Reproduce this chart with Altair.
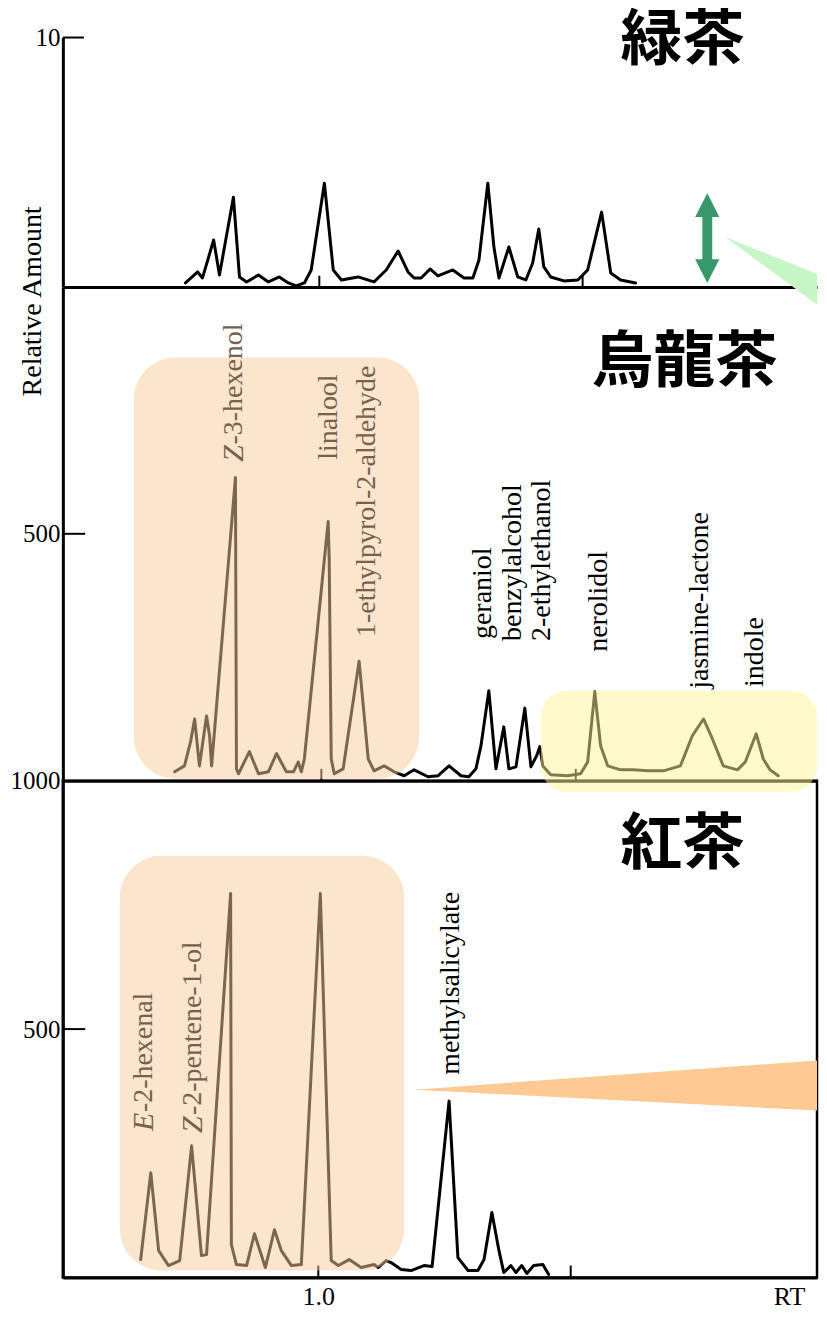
import altair as alt
import pandas as pd

SERIF = "Liberation Serif"
CJK = "Noto Sans CJK JP"
BROWN = "#76614c"
PEACH = "#f8cc9c"
YELLOW = "#fff49a"
GREEN = "#37996a"
MINT = "#c6f5c6"
ORANGE = "#ffc994"

# ---------------- 緑茶 chromatogram (RT, relative amount 0-10) ----------------
green_rt = [0.476, 0.524, 0.543, 0.587, 0.610, 0.665, 0.689, 0.717, 0.764, 0.803,
            0.846, 0.882, 0.913, 0.945, 0.972, 1.024, 1.059, 1.091, 1.157, 1.220,
            1.268, 1.315, 1.354, 1.378, 1.406, 1.441, 1.472, 1.531, 1.575, 1.610,
            1.634, 1.669, 1.693, 1.713, 1.752, 1.787, 1.819, 1.846, 1.870, 1.890,
            1.917, 1.969, 2.024, 2.063, 2.118, 2.154, 2.193, 2.252]
green_amt = [0.16, 0.60, 0.36, 1.88, 0.48, 3.60, 0.40, 0.20, 0.48, 0.20,
             0.40, 0.16, 0.04, 0.16, 0.68, 4.16, 0.68, 0.28, 0.40, 0.20,
             0.68, 1.44, 0.60, 0.36, 0.36, 0.72, 0.44, 0.68, 0.36, 0.36,
             1.08, 4.16, 1.60, 0.36, 1.60, 0.40, 0.28, 0.96, 2.32, 0.80,
             0.40, 0.24, 0.28, 0.68, 3.00, 0.56, 0.28, 0.16]

# ---------------- 烏龍茶 chromatogram (RT, relative amount 0-1000) ----------------
oolong_rt = [0.433, 0.472, 0.496, 0.512, 0.531, 0.559, 0.571, 0.579, 0.673, 0.677,
             0.685, 0.728, 0.764, 0.803, 0.835, 0.874, 0.902, 0.921, 0.933, 0.945,
             1.039, 1.043, 1.051, 1.063, 1.098, 1.161, 1.197, 1.220, 1.260, 1.299,
             1.339, 1.378, 1.433, 1.472, 1.516, 1.563, 1.594, 1.622, 1.642, 1.673,
             1.701, 1.732, 1.752, 1.780, 1.815, 1.839, 1.862, 1.874, 1.886, 1.917,
             1.984, 2.035, 2.063, 2.091, 2.114, 2.142, 2.193, 2.244, 2.299, 2.362,
             2.429, 2.476, 2.520, 2.555, 2.598, 2.654, 2.685, 2.728, 2.756, 2.783,
             2.815]
oolong_amt = [18, 30, 79, 125, 30, 131, 91, 30, 614, 24,
              14, 59, 14, 18, 55, 18, 18, 38, 18, 44,
              525, 448, 44, 14, 24, 242, 44, 20, 30, 18,
              10, 22, 8, 10, 30, 10, 8, 24, 71, 182,
              24, 109, 24, 28, 147, 28, 51, 69, 30, 12,
              10, 14, 38, 180, 71, 30, 22, 22, 20, 20,
              30, 91, 125, 85, 30, 22, 38, 95, 44, 22,
              10]

# ---------------- 紅茶 chromatogram (RT, relative amount 0-1000) ----------------
black_rt = [0.299, 0.339, 0.370, 0.409, 0.453, 0.500, 0.539, 0.559, 0.654, 0.657,
            0.677, 0.717, 0.748, 0.791, 0.827, 0.854, 0.894, 0.933, 1.008, 1.051,
            1.079, 1.122, 1.169, 1.220, 1.236, 1.268, 1.287, 1.327, 1.366, 1.417,
            1.449, 1.516, 1.551, 1.591, 1.630, 1.654, 1.685, 1.713, 1.732, 1.760,
            1.780, 1.803, 1.823, 1.850, 1.886, 1.909]
black_amt = [36, 211, 54, 24, 34, 265, 44, 46, 773, 66,
             26, 24, 88, 20, 96, 54, 24, 26, 773, 34,
             24, 36, 20, 26, 20, 34, 30, 16, 14, 24,
             22, 355, 40, 14, 14, 36, 131, 54, 10, 24,
             10, 24, 8, 24, 26, 6]

# ---------------- compound labels ----------------
oolong_lab = ["Z", "-3-hexenol", "linalool", "1-ethylpyrol-2-aldehyde",
              "geraniol", "benzylalcohol", "2-ethylethanol", "nerolidol",
              "jasmine-lactone", "indole"]
oolong_lab_rt = [0.669, 0.669, 1.043, 1.193, 1.650, 1.768, 1.882, 2.106, 2.508, 2.724]
oolong_lab_amt = [646, 681, 650, 291, 287, 283, 283, 261, 186, 190]
oolong_lab_kind = ["italic", "boxed", "boxed", "boxed",
                   "plain", "plain", "plain", "plain", "plain", "plain"]

black_lab = ["E", "-2-hexenal", "Z", "-2-pentene-1-ol", "methylsalicylate"]
black_lab_rt = [0.311, 0.311, 0.504, 0.504, 1.524]
black_lab_amt = [295, 333, 291, 327, 408]
black_lab_kind = ["italic", "boxed", "italic", "boxed", "plain"]

# ---------------- panel names ----------------
tea_names = ["緑茶", "烏龍茶", "紅茶"]
tea_rt = [2.437, 2.445, 2.437]
tea_amt = [11.06, 846, 871]
tea_baseline = ["top", "middle", "middle"]

# ---------------- RT axis extent ----------------
XMIN, XMAX = -0.008, 2.968

# ---------------- highlight boxes (rt, rt2, amt, amt2) ----------------
oolong_box = dict(rt=[0.272], rt2=[1.398], amt=[857], amt2=[4])
black_box = dict(rt=[0.217], rt2=[1.339], amt=[849], amt2=[14])
yellow_box = dict(rt=[1.878], rt2=[XMAX], amt=[1181], amt2=[978])

# ---------------- callout wedges ----------------
mint_wedge = dict(rt=[2.606, XMAX], amt=[2.0, 0.52], amt2=[2.0, -0.70])
orange_wedge = dict(rt=[1.378, XMAX], amt=[378, 437], amt2=[378, 336])

# double arrow in the 緑茶 panel
arrow_rt = [2.535]
arrow_amt = [1.96]

# inward tick marks
top_xticks = [1.004, 2.043]
mid_xticks = [1.012, 2.016]
bot_xticks = [1.0, 1.996]

W = 756
XS = alt.Scale(domain=[XMIN, XMAX], nice=False, zero=False)


def xaxis_plain():
    return alt.Axis(domain=True, domainColor="black", domainWidth=3, ticks=False,
                    labels=False, title=None, grid=False)


def xaxis_bottom():
    return alt.Axis(values=[1.0], format=".1f", domain=True, domainColor="black",
                    domainWidth=3, ticks=False, tickSize=0, labelFont=SERIF,
                    labelFontSize=26, labelColor="black", labelPadding=6,
                    labelBaseline="top",
                    grid=False, title="RT", titleFont=SERIF, titleFontSize=26,
                    titleFontWeight="normal", titleColor="black", titleX=728,
                    titleY=6, titleAlign="center", titleBaseline="top")


def yaxis(values, fmt="d", title=None, **kw):
    params = dict(values=values, format=fmt, domain=True, domainColor="black",
                  domainWidth=3, ticks=False, tickSize=0, labelFont=SERIF,
                  labelFontSize=25, labelColor="black", labelPadding=3,
                  grid=False)
    if title is None:
        params["title"] = None
    else:
        params.update(dict(title=title, titleFont=SERIF, titleFontSize=28,
                           titleFontWeight="normal", titleColor="black",
                           titleAlign="center", titleBaseline="middle"))
        params.update(kw)
    return alt.Axis(**params)


def build_panel(height, ydomain, xaxis, yax, curve_rt, curve_amt, xticks,
                ytick_val, ytick_len, xtick_len, extra_front=None, view=None):
    X = alt.X("rt:Q", scale=XS, axis=xaxis)
    Y = alt.Y("amt:Q", scale=alt.Scale(domain=ydomain, nice=False, zero=False), axis=yax)
    layers = []
    curve = alt.Chart(pd.DataFrame({"rt": curve_rt, "amt": curve_amt})).mark_line(
        color="black", strokeWidth=3, strokeJoin="round", strokeCap="round"
    ).encode(x=X, y=Y)
    layers.append(curve)
    xt = alt.Chart(pd.DataFrame({"rt": xticks, "amt": [0] * len(xticks),
                                 "amt2": [xtick_len] * len(xticks)})).mark_rule(
        color="black", strokeWidth=2).encode(x=X, y=Y, y2=alt.Y2("amt2"))
    layers.append(xt)
    yt = alt.Chart(pd.DataFrame({"rt": [XMIN], "rt2": [ytick_len], "amt": [ytick_val]})).mark_rule(
        color="black", strokeWidth=2).encode(x=X, x2=alt.X2("rt2"), y=Y)
    layers.append(yt)
    for spec in (extra_front or []):
        layers.append(spec(X, Y))
    layer = alt.layer(*layers).properties(width=W, height=height)
    if view is not None:
        layer = layer.properties(view=view)
    else:
        layer = layer.properties(view=alt.ViewBackground(stroke="transparent", strokeWidth=0))
    return layer


def text_layer(labels, rts, amts, kinds, kind, X, Y):
    sel = [i for i, k in enumerate(kinds) if k == kind]
    df = pd.DataFrame({"label": [labels[i] for i in sel],
                       "rt": [rts[i] for i in sel],
                       "amt": [amts[i] for i in sel]})
    props = dict(angle=270, align="left", baseline="middle", font=SERIF,
                 fontSize=28)
    if kind == "italic":
        props.update(fontStyle="italic", color=BROWN, fontSize=30)
    elif kind == "boxed":
        props.update(color=BROWN)
    else:
        props.update(color="black")
    return alt.Chart(df).mark_text(**props).encode(x=X, y=Y, text="label:N")


def title_layer(i, X, Y):
    df = pd.DataFrame({"name": [tea_names[i]], "rt": [tea_rt[i]], "amt": [tea_amt[i]]})
    return alt.Chart(df).mark_text(font=CJK, fontSize=62, fontWeight="bold",
                                   align="center", baseline=tea_baseline[i],
                                   color="black").encode(x=X, y=Y, text="name:N")


def box_layer(box, color, opacity, radius, X, Y):
    return alt.Chart(pd.DataFrame(box)).mark_rect(
        color=color, opacity=opacity, cornerRadius=radius
    ).encode(x=X, x2=alt.X2("rt2"), y=Y, y2=alt.Y2("amt2"))


def wedge_layer(w, color, X, Y):
    return alt.Chart(pd.DataFrame(w)).mark_area(color=color, opacity=1).encode(
        x=X, y=Y, y2=alt.Y2("amt2"))


ARROW = ("M0,-1L0.27,-0.47L0.11,-0.47L0.11,0.47L0.27,0.47L0,1"
         "L-0.27,0.47L-0.11,0.47L-0.11,-0.47L-0.27,-0.47Z")


def arrow_layer(X, Y):
    return alt.Chart(pd.DataFrame({"rt": arrow_rt, "amt": arrow_amt})).mark_point(
        shape=ARROW, filled=True, size=8100, color=GREEN, opacity=1, strokeWidth=0
    ).encode(x=X, y=Y)


top = build_panel(
    250, [0, 10], xaxis_plain(),
    yaxis([10], title="Relative Amount", titleX=-30, titleY=264),
    green_rt, green_amt, top_xticks, 10, 0.075, 0.45,
    extra_front=[
        lambda X, Y: title_layer(0, X, Y),
        lambda X, Y: wedge_layer(mint_wedge, MINT, X, Y),
        arrow_layer,
    ])

mid = build_panel(
    495, [0, 1000], xaxis_plain(), yaxis([500]),
    oolong_rt, oolong_amt, mid_xticks, 500, 0.08, 24,
    extra_front=[
        lambda X, Y: text_layer(oolong_lab, oolong_lab_rt, oolong_lab_amt, oolong_lab_kind, "plain", X, Y),
        lambda X, Y: title_layer(1, X, Y),
        lambda X, Y: box_layer(oolong_box, PEACH, 0.5, 42, X, Y),
        lambda X, Y: text_layer(oolong_lab, oolong_lab_rt, oolong_lab_amt, oolong_lab_kind, "boxed", X, Y),
        lambda X, Y: text_layer(oolong_lab, oolong_lab_rt, oolong_lab_amt, oolong_lab_kind, "italic", X, Y),
    ])

bot = build_panel(
    498, [0, 1000], xaxis_bottom(), yaxis([500, 1000]),
    black_rt, black_amt, bot_xticks, 500, 0.08, 24,
    extra_front=[
        lambda X, Y: text_layer(black_lab, black_lab_rt, black_lab_amt, black_lab_kind, "plain", X, Y),
        lambda X, Y: title_layer(2, X, Y),
        lambda X, Y: box_layer(black_box, PEACH, 0.5, 42, X, Y),
        lambda X, Y: text_layer(black_lab, black_lab_rt, black_lab_amt, black_lab_kind, "boxed", X, Y),
        lambda X, Y: text_layer(black_lab, black_lab_rt, black_lab_amt, black_lab_kind, "italic", X, Y),
        lambda X, Y: box_layer(yellow_box, YELLOW, 0.5, 26, X, Y),
        lambda X, Y: wedge_layer(orange_wedge, ORANGE, X, Y),
    ],
    view=alt.ViewBackground(stroke="black", strokeWidth=2.5))

chart = alt.vconcat(
    top, mid, bot, spacing=0, bounds="flush", background="white", padding=0,
).configure_view(stroke="transparent", strokeWidth=0)

chart.save("out.html", embed_options={"renderer": "svg", "actions": False})
